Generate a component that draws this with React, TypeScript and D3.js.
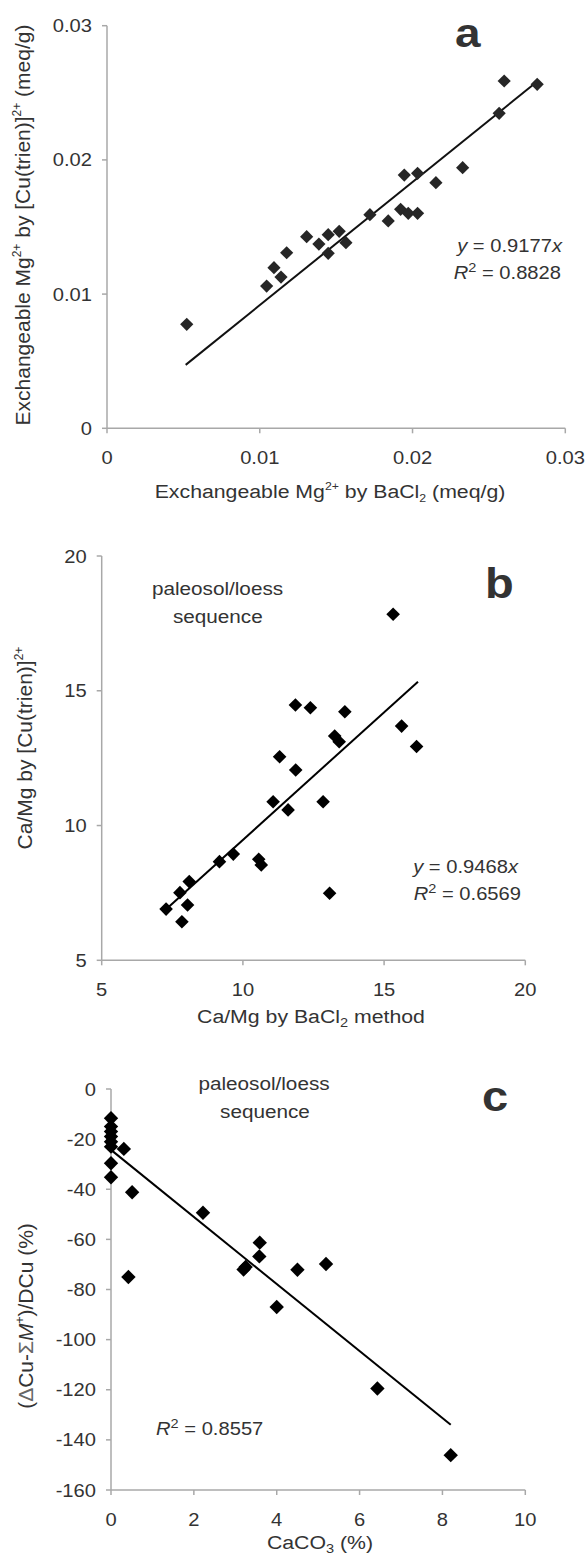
import React from "react";
import * as d3 from "d3";

// ---------- data ----------
const aX = [0.00522, 0.01045, 0.01093, 0.01139, 0.01176, 0.01307, 0.01387, 0.01448, 0.01448, 0.0152, 0.01564, 0.01721, 0.01841, 0.01922, 0.01946, 0.01972, 0.02033, 0.02033, 0.02153, 0.02328, 0.02567, 0.026, 0.02816];
const aY = [0.00775, 0.0106, 0.01197, 0.01127, 0.01308, 0.01428, 0.01373, 0.01443, 0.01304, 0.01468, 0.01383, 0.01592, 0.01545, 0.01632, 0.01887, 0.01602, 0.01602, 0.019, 0.0183, 0.01942, 0.02347, 0.02588, 0.02563];
const aTicks = [0, 0.01, 0.02, 0.03];
const aTickLabels = ["0", "0.01", "0.02", "0.03"];
const aSlope = 0.9177;
const aFitRange = [0.00515, 0.0281];

const bX = [7.28, 7.77, 7.84, 8.04, 8.1, 9.17, 9.66, 10.56, 10.65, 11.07, 11.3, 11.6, 11.86, 11.87, 12.39, 12.84, 13.07, 13.25, 13.41, 13.61, 15.32, 15.62, 16.15];
const bY = [6.9, 7.51, 6.43, 7.05, 7.92, 8.66, 8.94, 8.75, 8.54, 10.88, 12.55, 10.58, 14.47, 12.06, 14.37, 10.88, 7.49, 13.32, 13.11, 14.22, 17.84, 13.69, 12.93];
const bTicks = [5, 10, 15, 20];
const bSlope = 0.9468;
const bFitRange = [7.3, 16.2];

const cX = [0, 0, 0, 0, 0, 0, 0, 0, 0.31, 0.51, 0.42, 2.22, 3.2, 3.25, 3.59, 3.58, 4.0, 4.5, 5.19, 6.43, 8.2];
const cY = [-11.7, -15, -17, -19, -21, -23, -29.6, -35.2, -23.9, -41.2, -75, -49.4, -72, -71, -61.3, -66.8, -87, -72.1, -69.8, -119.5, -146.1];
const cXTicks = [0, 2, 4, 6, 8, 10];
const cYTicks = [0, -20, -40, -60, -80, -100, -120, -140, -160];
const cFitX = [0, 8.2];
const cFitY = [-24.3, -134];

// ---------- style ----------
const FONT = "'Liberation Sans', Arial, Helvetica, sans-serif";
const TXT = "#333";
const AXIS = "#a8a8a8";
const SX = 1.12;

function T({ x, y, anchor = "start", size = 18, weight = "normal", fill = TXT, children }: any) {
  return (
    <text
      transform={`translate(${x},${y}) scale(${SX},1)`}
      textAnchor={anchor}
      fontSize={size}
      fontWeight={weight}
      fill={fill}
      fontFamily={FONT}
    >
      {children}
    </text>
  );
}

function Diamond({ cx, cy, r, fill }: any) {
  return <path d={`M${cx},${cy - r}L${cx + r},${cy}L${cx},${cy + r}L${cx - r},${cy}Z`} fill={fill} />;
}

function Axes({ x, y, xTicks, yTicks, xLabels, yLabels }: any) {
  const [x0, x1] = x.range();
  const [y0, y1] = y.range();
  return (
    <g>
      <line x1={x0} x2={x0} y1={y0} y2={y1} stroke={AXIS} strokeWidth={1.5} />
      <line x1={x0} x2={x1} y1={y0} y2={y0} stroke={AXIS} strokeWidth={1.5} />
      {yTicks.map((t: number, i: number) => (
        <g key={"y" + i}>
          <line x1={x0 - 5} x2={x0} y1={y(t)} y2={y(t)} stroke={AXIS} strokeWidth={1.5} />
          <T x={x0 - 15} y={y(t) + 6.5} anchor="end">{yLabels[i]}</T>
        </g>
      ))}
      {xTicks.map((t: number, i: number) => (
        <g key={"x" + i}>
          <line x1={x(t)} x2={x(t)} y1={y0} y2={y0 + 5} stroke={AXIS} strokeWidth={1.5} />
          <T x={x(t)} y={y0 + 36} anchor="middle">{xLabels[i]}</T>
        </g>
      ))}
    </g>
  );
}

export default function App() {
  // panel a
  const ax = d3.scaleLinear().domain([0, 0.03]).range([107, 565.3]);
  const ay = d3.scaleLinear().domain([0, 0.03]).range([428.3, 25.7]);
  // panel b
  const bx = d3.scaleLinear().domain([5, 20]).range([101.7, 525.3]);
  const by = d3.scaleLinear().domain([5, 20]).range([960.3, 556]);
  // panel c
  const cx = d3.scaleLinear().domain([0, 10]).range([111, 525.3]);
  const cy = d3.scaleLinear().domain([-160, 0]).range([1490, 1089]);

  const line = d3.line<[number, number]>();

  const aFit = line(aFitRange.map((v) => [ax(v), ay(v * aSlope)] as [number, number]));
  const bFit = line(bFitRange.map((v) => [bx(v), by(v * bSlope)] as [number, number]));
  const cFit = line(cFitX.map((v, i) => [cx(v), cy(cFitY[i])] as [number, number]));

  return (
    <svg
      width={588}
      height={1558}
      style={{ position: "absolute", left: 0, top: 0, background: "#fff" }}
      fontFamily={FONT}
    >
      <rect width={588} height={1558} fill="#fff" />

      {/* ---------- panel a ---------- */}
      <Axes x={ax} y={ay} xTicks={aTicks} yTicks={aTicks} xLabels={aTickLabels} yLabels={aTickLabels} />
      <path d={aFit || ""} stroke="#111" strokeWidth={2} fill="none" />
      {aX.map((v, i) => (
        <Diamond key={i} cx={ax(v)} cy={ay(aY[i])} r={6.6} fill="#262626" />
      ))}
      <T x={455} y={47} size={41} weight="bold">a</T>
      <text transform={`translate(562,252) scale(${SX},1)`} textAnchor="end" fontSize={18} fill={TXT}>
        <tspan fontStyle="italic">y</tspan> = 0.9177<tspan fontStyle="italic">x</tspan>
      </text>
      <text transform={`translate(561,279) scale(${SX},1)`} textAnchor="end" fontSize={18} fill={TXT}>
        <tspan fontStyle="italic">R</tspan>
        <tspan dy={-7} fontSize={13}>2</tspan>
        <tspan dy={7}> = 0.8828</tspan>
      </text>
      <text transform={`translate(330,498) scale(${SX},1)`} textAnchor="middle" fontSize={19} fill={TXT}>
        Exchangeable Mg<tspan dy={-8} fontSize={11}>2+</tspan>
        <tspan dy={8}> by BaCl</tspan>
        <tspan dy={4} fontSize={11}>2</tspan>
        <tspan dy={-4}> (meq/g)</tspan>
      </text>
      <text transform="translate(30,225) rotate(-90)" textAnchor="middle" fontSize={21} fill={TXT}>
        Exchangeable Mg<tspan dy={-9} fontSize={12}>2+</tspan>
        <tspan dy={9}> by [Cu(trien)]</tspan>
        <tspan dy={-9} fontSize={12}>2+</tspan>
        <tspan dy={9}> (meq/g)</tspan>
      </text>

      {/* ---------- panel b ---------- */}
      <Axes x={bx} y={by} xTicks={bTicks} yTicks={bTicks} xLabels={bTicks.map(String)} yLabels={bTicks.map(String)} />
      <path d={bFit || ""} stroke="#000" strokeWidth={2} fill="none" />
      {bX.map((v, i) => (
        <Diamond key={i} cx={bx(v)} cy={by(bY[i])} r={6.8} fill="#000" />
      ))}
      <T x={485} y={598} size={42} weight="bold">b</T>
      <T x={217.5} y={595} anchor="middle" size={18.5}>paleosol/loess</T>
      <T x={217.8} y={623} anchor="middle" size={18.5}>sequence</T>
      <text transform={`translate(518,873) scale(${SX},1)`} textAnchor="end" fontSize={18} fill={TXT}>
        <tspan fontStyle="italic">y</tspan> = 0.9468<tspan fontStyle="italic">x</tspan>
      </text>
      <text transform={`translate(521,900) scale(${SX},1)`} textAnchor="end" fontSize={18} fill={TXT}>
        <tspan fontStyle="italic">R</tspan>
        <tspan dy={-7} fontSize={13}>2</tspan>
        <tspan dy={7}> = 0.6569</tspan>
      </text>
      <text transform={`translate(311,1023) scale(${SX},1)`} textAnchor="middle" fontSize={19} fill={TXT}>
        Ca/Mg by BaCl<tspan dy={4} fontSize={13}>2</tspan>
        <tspan dy={-4}> method</tspan>
      </text>
      <text transform="translate(32,748) rotate(-90)" textAnchor="middle" fontSize={21} fill={TXT}>
        Ca/Mg by [Cu(trien)]<tspan dy={-9} fontSize={12}>2+</tspan>
      </text>

      {/* ---------- panel c ---------- */}
      <Axes x={cx} y={cy} xTicks={cXTicks} yTicks={cYTicks} xLabels={cXTicks.map(String)} yLabels={cYTicks.map(String)} />
      <path d={cFit || ""} stroke="#000" strokeWidth={2} fill="none" />
      {cX.map((v, i) => (
        <Diamond key={i} cx={cx(v)} cy={cy(cY[i])} r={7.2} fill="#000" />
      ))}
      <T x={482} y={1111} size={42} weight="bold">c</T>
      <T x={264} y={1090} anchor="middle" size={18.5}>paleosol/loess</T>
      <T x={265} y={1118} anchor="middle" size={18.5}>sequence</T>
      <text transform={`translate(156,1435) scale(${SX},1)`} textAnchor="start" fontSize={18} fill={TXT}>
        <tspan fontStyle="italic">R</tspan>
        <tspan dy={-7} fontSize={13}>2</tspan>
        <tspan dy={7}> = 0.8557</tspan>
      </text>
      <text transform={`translate(320,1549) scale(${SX},1)`} textAnchor="middle" fontSize={19} fill={TXT}>
        CaCO<tspan dy={4} fontSize={13}>3</tspan>
        <tspan dy={-4}> (%)</tspan>
      </text>
      <text transform="translate(33,1316) rotate(-90)" textAnchor="middle" fontSize={21} fill={TXT}>
        (<tspan fill="#666">Δ</tspan>Cu-<tspan fill="#666">Σ</tspan>
        <tspan fontStyle="italic">M</tspan>
        <tspan dy={-9} fontSize={12}>+</tspan>
        <tspan dy={9}>)/DCu (%)</tspan>
      </text>
    </svg>
  );
}
